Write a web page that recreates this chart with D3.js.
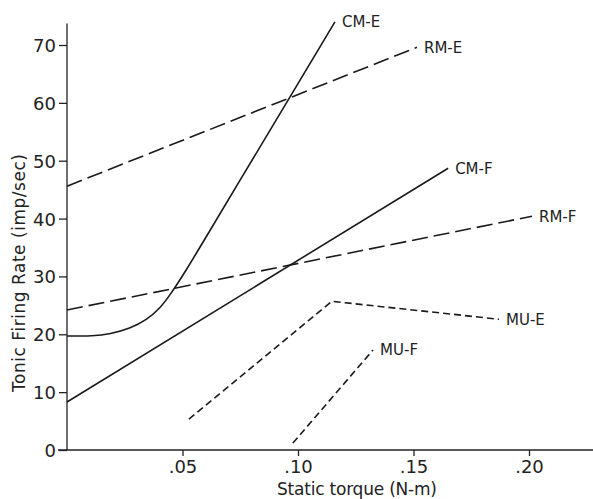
<!DOCTYPE html>
<html lang="en">
<head>
  <meta charset="utf-8" />
  <title>Tonic firing rate vs static torque</title>
  <style>
    body { margin: 0; background: #fff; }
    svg { display: block; }
    .tick text, .lbl, .title { font-family: "DejaVu Sans", sans-serif; fill: #222; }
  </style>
</head>
<body>
  <svg width="593" height="499"></svg>
  <script src="https://d3js.org/d3.v7.min.js"></script>
  <script>
    // values
    const xTicks = [0.05, 0.10, 0.15, 0.20];
    const xTickLabels = [".05", ".10", ".15", ".20"];
    const yTicks = [0, 10, 20, 30, 40, 50, 60, 70];

    const cmE = [[0, 19.7], [0.0113, 19.7], [0.0186, 20.05], [0.0273, 21.0], [0.0345, 22.5],
                 [0.0403, 24.5], [0.0446, 26.8], [0.0503, 30.2], [0.062, 38.0],
                 [0.075, 46.7], [0.0965, 61.0], [0.116, 74.0]];
    const rmE = [[0, 45.6], [0.1515, 69.6]];
    const cmF = [[0, 8.3], [0.165, 48.7]];
    const rmF = [[0, 24.2], [0.2013, 40.4]];
    const muE = [[0.0528, 5.35], [0.1147, 25.7], [0.187, 22.6]];
    const muF = [[0.0978, 1.2], [0.1325, 17.3]];

    const series = [
      { name: "CM-E", pts: cmE, dash: null, curve: d3.curveBasis },
      { name: "RM-E", pts: rmE, dash: "16,6", curve: d3.curveLinear },
      { name: "CM-F", pts: cmF, dash: null, curve: d3.curveLinear },
      { name: "RM-F", pts: rmF, dash: "16,6", curve: d3.curveLinear },
      { name: "MU-E", pts: muE, dash: "7,4", curve: d3.curveLinear },
      { name: "MU-F", pts: muF, dash: "7,4", curve: d3.curveLinear }
    ];

    const svg = d3.select("svg");
    const x = d3.scaleLinear().domain([0, 0.2]).range([67, 529]);
    const y = d3.scaleLinear().domain([0, 70]).range([450, 45]);

    // y axis
    const yAxis = svg.append("g")
      .attr("transform", `translate(${x(0)},0)`)
      .call(d3.axisLeft(y).tickValues(yTicks).tickSize(8).tickPadding(3).tickFormat(d3.format("d")));
    yAxis.select(".domain").remove();
    yAxis.selectAll(".tick line").attr("stroke", "#222").attr("stroke-width", 1.3);
    yAxis.selectAll(".tick text").style("font-size", "18px").attr("dy", "0.36em");
    svg.append("line")
      .attr("x1", x(0)).attr("x2", x(0))
      .attr("y1", y(0)).attr("y2", y(73.7))
      .attr("stroke", "#222").attr("stroke-width", 1.3);

    // x axis
    const xAxis = svg.append("g")
      .attr("transform", `translate(0,${y(0)})`)
      .call(d3.axisBottom(x).tickValues(xTicks).tickSize(6).tickPadding(4)
        .tickFormat((d, i) => xTickLabels[i]));
    xAxis.select(".domain").remove();
    xAxis.selectAll(".tick line").attr("stroke", "#222").attr("stroke-width", 1.3);
    xAxis.selectAll(".tick text").style("font-size", "18px");
    svg.append("line")
      .attr("x1", x(0) - 9).attr("x2", 593)
      .attr("y1", y(0)).attr("y2", y(0))
      .attr("stroke", "#222").attr("stroke-width", 1.3);

    // axis titles
    svg.append("text").attr("class", "title")
      .attr("x", 357).attr("y", 495)
      .attr("text-anchor", "middle")
      .style("font-size", "17px")
      .attr("textLength", 160)
      .text("Static torque (N-m)");
    svg.append("text").attr("class", "title")
      .attr("transform", `translate(25,273) rotate(-90)`)
      .attr("text-anchor", "middle")
      .style("font-size", "17px")
      .attr("textLength", 238)
      .text("Tonic Firing Rate (imp/sec)");

    // curves
    series.forEach(s => {
      const line = d3.line().x(d => x(d[0])).y(d => y(d[1])).curve(s.curve);
      svg.append("path")
        .attr("d", line(s.pts))
        .attr("fill", "none")
        .attr("stroke", "#1a1a1a")
        .attr("stroke-width", 1.6)
        .attr("stroke-dasharray", s.dash);
      const last = s.pts[s.pts.length - 1];
      svg.append("text").attr("class", "lbl")
        .attr("x", x(last[0]) + 7)
        .attr("y", y(last[1]))
        .attr("dy", "0.36em")
        .style("font-size", "15px")
        .text(s.name);
    });
  </script>
</body>
</html>
